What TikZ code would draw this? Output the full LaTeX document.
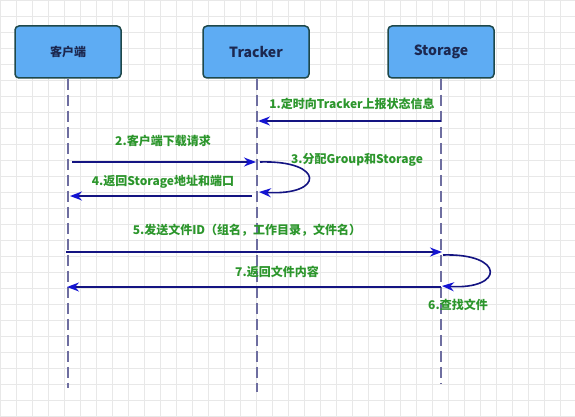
\documentclass[tikz,border=0pt]{standalone}
\usepackage{fontspec}
\newfontfamily\cjk{Noto Sans CJK SC}
\usetikzlibrary{arrows.meta}
\definecolor{boxblue}{RGB}{94,172,243}
\definecolor{boxedge}{RGB}{30,72,74}
\definecolor{boxtext}{RGB}{28,40,80}
\definecolor{msgline}{RGB}{20,20,130}
\definecolor{msgtip}{RGB}{20,20,210}
\definecolor{msgtext}{RGB}{44,150,44}
\definecolor{lifegray}{RGB}{110,110,160}
\definecolor{gridgray}{RGB}{232,232,232}

\tikzset{
    actor/.style={draw=boxedge, line width=1.5pt, rounded corners=4pt, fill=boxblue,
        minimum width=106pt, minimum height=52pt, text=boxtext, font=\cjk\fontsize{14}{16}\selectfont\bfseries},
    lifeline/.style={draw=lifegray, line width=1.2pt, dash pattern=on 11pt off 5pt},
    msg/.style={draw=msgline, line width=1.6pt, -{Stealth[length=12pt, width=9pt, fill=msgtip, color=msgtip]}},
    msglabel/.style={text=msgtext, font=\cjk\fontsize{12}{14}\selectfont\bfseries, inner sep=1pt}
}

\begin{document}
\begin{tikzpicture}[x=1pt, y=-1pt]
    \useasboundingbox (0,0) rectangle (575,417);
    % background grid
    \fill[white] (0,0) rectangle (575,417);
    \draw[gridgray, line width=0.6pt, step=16pt] (0,0) grid (575,417);

    % Participants
    \node[actor, font=\cjk\fontsize{12}{14}\selectfont\bfseries] (client) at (68,52) {客户端};
    \node[actor] (tracker) at (256,52) {Tracker};
    \node[actor] (storage) at (441,52) {Storage};

    \coordinate (clientend) at (68,388);
    \coordinate (trackerend) at (257,392);
    \coordinate (storageend) at (441,384);
    \draw[lifeline] (client) -- (clientend);
    \draw[lifeline] (tracker.south -| trackerend) -- (trackerend);
    \draw[lifeline] (storage) -- (storageend);

    % Message end points
    \coordinate (s1) at (441,121);
    \coordinate (t1) at (258,121);
    \coordinate (c2) at (72,162);
    \coordinate (t2) at (256,162);
    \coordinate (t3a) at (260,162);
    \coordinate (t3b) at (259,192);
    \coordinate (t4) at (252,196);
    \coordinate (c4) at (70,196);
    \coordinate (c5) at (66,252);
    \coordinate (s5) at (442,252);
    \coordinate (s6a) at (443,255);
    \coordinate (s6b) at (442,286);
    \coordinate (s7) at (441,287);
    \coordinate (c7) at (67,287);

    % Messages
    \draw[msg] (s1) -- (t1);
    \draw[msg] (c2) -- (t2);
    \draw[msg] (t3a) .. controls (325,160) and (325,196) .. (t3b);
    \draw[msg] (t4) -- (c4);
    \draw[msg] (c5) -- (s5);
    \draw[msg] (s6a) .. controls (505,253) and (505,290) .. (s6b);
    \draw[msg] (s7) -- (c7);

    % Labels
    \node[msglabel] (lab1) at (352,104) {1.定时向Tracker上报状态信息};
    \node[msglabel] (lab2) at (163,141) {2.客户端下载请求};
    \node[msglabel] (lab3) at (357,160) {3.分配Group和Storage};
    \node[msglabel] (lab4) at (163,182) {4.返回Storage地址和端口};
    \node[msglabel] (lab5) at (247,230) {5.发送文件ID（组名，工作目录，文件名）};
    \node[msglabel] (lab6) at (458,305) {6.查找文件};
    \node[msglabel] (lab7) at (277,272) {7.返回文件内容};
\end{tikzpicture}
\end{document}
